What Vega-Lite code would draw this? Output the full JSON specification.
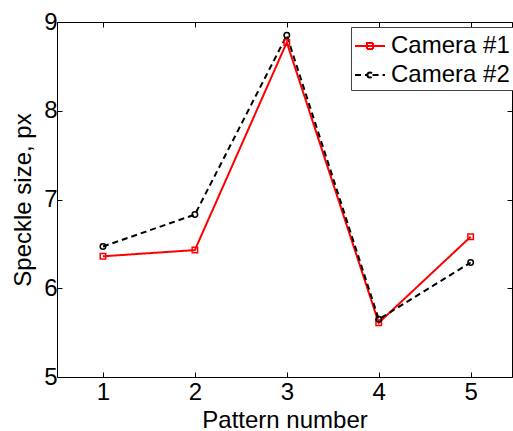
{
  "$schema": "https://vega.github.io/schema/vega-lite/v6.json",
  "width": 455,
  "height": 355,
  "autosize": {"type": "none"},
  "padding": {"left": 57, "top": 22, "right": 1, "bottom": 54},
  "background": "white",
  "config": {
    "font": "Liberation Sans",
    "view": {"stroke": "black", "strokeWidth": 1},
    "axis": {
      "domain": false,
      "grid": false,
      "ticks": true,
      "tickColor": "black",
      "tickSize": -5,
      "labelColor": "black",
      "titleColor": "black",
      "labelFont": "Liberation Sans",
      "titleFont": "Liberation Sans",
      "labelFontSize": 24,
      "titleFontSize": 24,
      "titleFontWeight": "normal"
    },
    "legend": {
      "orient": "none",
      "legendX": 294,
      "legendY": 5,
      "strokeColor": "#444444",
      "fillColor": "white",
      "padding": 3,
      "labelFont": "Liberation Sans",
      "labelFontSize": 24,
      "labelColor": "black",
      "labelOffset": 5,
      "rowPadding": 1,
      "symbolSize": 900,
      "symbolStrokeWidth": 2,
      "title": null
    }
  },
  "data": {
    "values": [
      {"pattern": 1, "size": 6.36, "camera": "Camera #1"},
      {"pattern": 2, "size": 6.43, "camera": "Camera #1"},
      {"pattern": 3, "size": 8.77, "camera": "Camera #1"},
      {"pattern": 4, "size": 5.61, "camera": "Camera #1"},
      {"pattern": 5, "size": 6.58, "camera": "Camera #1"},
      {"pattern": 1, "size": 6.47, "camera": "Camera #2"},
      {"pattern": 2, "size": 6.83, "camera": "Camera #2"},
      {"pattern": 3, "size": 8.85, "camera": "Camera #2"},
      {"pattern": 4, "size": 5.65, "camera": "Camera #2"},
      {"pattern": 5, "size": 6.29, "camera": "Camera #2"}
    ]
  },
  "layer": [
    {
      "mark": {"type": "line", "strokeWidth": 2},
      "encoding": {
        "x": {
          "field": "pattern", "type": "quantitative",
          "scale": {"domain": [0.5, 5.45], "nice": false, "zero": false},
          "axis": {"orient": "bottom", "values": [1, 2, 3, 4, 5], "title": "Pattern number", "labelPadding": 8, "titlePadding": 4}
        },
        "y": {
          "field": "size", "type": "quantitative",
          "scale": {"domain": [5, 9], "nice": false, "zero": false},
          "axis": {"orient": "left", "values": [5, 6, 7, 8, 9], "title": "Speckle size, px", "labelPadding": 5, "titlePadding": 8}
        },
        "color": {
          "field": "camera", "type": "nominal",
          "scale": {"domain": ["Camera #1", "Camera #2"], "range": ["#ff0000", "#000000"]},
          "legend": {
            "encode": {
              "symbols": {
                "update": {
                  "shape": {"signal": "datum.value === 'Camera #1' ? 'M-1,0H1M-0.2,-0.2H0.2V0.2H-0.2Z' : 'M-1,0H-0.17M0.17,0H1M-0.17,0A0.17,0.17,0,1,1,0.17,0A0.17,0.17,0,1,1,-0.17,0'"},
                  "fill": {"value": "transparent"}
                }
              }
            }
          }
        },
        "strokeDash": {
          "field": "camera", "type": "nominal",
          "scale": {"domain": ["Camera #1", "Camera #2"], "range": [[1, 0], [6, 4]]}
        }
      }
    },
    {
      "transform": [{"filter": "datum.camera === 'Camera #1'"}],
      "mark": {"type": "point", "shape": "square", "filled": false, "color": "#ff0000", "strokeWidth": 1.5, "size": 30, "opacity": 1},
      "encoding": {
        "x": {
          "field": "pattern", "type": "quantitative",
          "scale": {"domain": [0.5, 5.45], "nice": false, "zero": false},
          "axis": {"orient": "top", "values": [1, 2, 3, 4, 5], "labels": false, "title": null}
        },
        "y": {
          "field": "size", "type": "quantitative",
          "scale": {"domain": [5, 9], "nice": false, "zero": false},
          "axis": {"orient": "right", "values": [5, 6, 7, 8, 9], "labels": false, "title": null}
        }
      }
    },
    {
      "transform": [{"filter": "datum.camera === 'Camera #2'"}],
      "mark": {"type": "point", "shape": "circle", "filled": false, "color": "#000000", "strokeWidth": 1.5, "size": 30, "opacity": 1},
      "encoding": {
        "x": {"field": "pattern", "type": "quantitative", "axis": null},
        "y": {"field": "size", "type": "quantitative", "axis": null}
      }
    }
  ],
  "resolve": {"axis": {"x": "independent", "y": "independent"}}
}
